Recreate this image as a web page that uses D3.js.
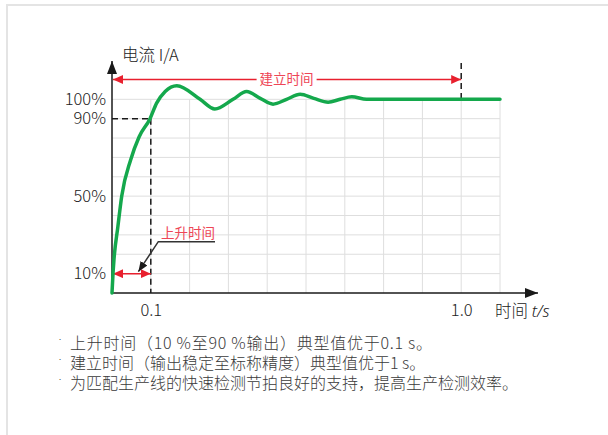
<!DOCTYPE html>
<html><head><meta charset="utf-8">
<script src="https://cdn.jsdelivr.net/npm/d3@7/dist/d3.min.js"></script>
<style>
html,body{margin:0;padding:0;background:#fff;}
svg{display:block;font-family:"Noto Sans CJK SC","Noto Sans",sans-serif;}
</style></head>
<body>
<svg id="chart" width="608" height="435"></svg>
<script>
// ---- data ----
const yTickValues = [10, 50, 90, 100];
const yTickLabels = ["10%", "50%", "90%", "100%"];
const xTickPositions = [1, 9];            // grid units
const xTickLabels = ["0.1", "1.0"];
const gridX = d3.range(0, 11, 1);
const gridY = d3.range(0, 101, 10);
const curveX = [0, 0.026, 0.05, 0.15, 0.25, 0.48, 0.70, 0.98, 1.15, 1.37, 1.67, 2.27, 2.65, 3.12, 3.47, 3.82, 4.15, 4.5, 4.85, 5.2, 5.57, 5.88, 6.18, 6.56, 10];
const curveY = [0, 10, 17, 34, 50, 68.7, 80.7, 90, 98, 104, 107, 100, 95, 100, 104, 100.5, 97.5, 100, 102.6, 100.5, 98.5, 100, 101.3, 100, 100];
const riseTime = 1, riseLevel = 90, lowLevel = 10, settleTime = 9;
const yTitle = "电流 I/A";
const xTitle = "时间 ";
const xTitleItalic = "t/s";
const settleLabel = "建立时间";
const riseLabel = "上升时间";
const notes = [
  "上升时间（10 %至90 %输出）典型值优于0.1 s。",
  "建立时间（输出稳定至标称精度）典型值优于1 s。",
  "为匹配生产线的快速检测节拍良好的支持，提高生产检测效率。"
];

// ---- drawing ----
const svg = d3.select("#chart");
const x = d3.scaleLinear().domain([0, 10]).range([112, 500]);
const y = d3.scaleLinear().domain([0, 100]).range([293, 99.3]);
const red = "#e8202e", redText = "#ee4656", green = "#14a84c", ink = "#1a1a1a";

// frame
svg.append("path").attr("d", "M7,435 V5 H608").attr("fill", "none").attr("stroke", "#e4e4e4").attr("stroke-width", 2);

const defs = svg.append("defs");
function marker(id, color, w, h) {
  defs.append("marker").attr("id", id).attr("viewBox", `0 0 ${w} ${h}`)
    .attr("refX", w).attr("refY", h / 2).attr("markerWidth", w).attr("markerHeight", h)
    .attr("markerUnits", "userSpaceOnUse").attr("orient", "auto-start-reverse")
    .append("path").attr("d", `M0,0 L${w},${h / 2} L0,${h} Z`).attr("fill", color);
}
marker("redArrow", red, 10, 9);
marker("blackArrow", ink, 13, 10);
marker("smallBlack", ink, 10, 8);

// grid
const grid = svg.append("g").attr("stroke", "#dedede").attr("stroke-width", 1);
grid.selectAll("line.v").data(gridX.slice(1)).join("line")
  .attr("x1", d => x(d)).attr("x2", d => x(d)).attr("y1", y(100)).attr("y2", y(0));
grid.selectAll("line.h").data(gridY.slice(1)).join("line")
  .attr("x1", x(0)).attr("x2", x(10)).attr("y1", d => y(d)).attr("y2", d => y(d));

// axes using d3 axes
const yAxis = d3.axisLeft(y).tickValues(yTickValues).tickFormat((d, i) => yTickLabels[i]).tickSize(0).tickPadding(6);
const gy = svg.append("g").attr("transform", `translate(${x(0)},0)`).call(yAxis);
gy.select(".domain").remove();
gy.selectAll("text").attr("font-size", 16.5).attr("fill", "#222").attr("font-family", "'Noto Sans CJK SC'").attr("font-weight", 300);

const xAxis = d3.axisBottom(x).tickValues(xTickPositions).tickFormat((d, i) => xTickLabels[i]).tickSize(0).tickPadding(11);
const gx = svg.append("g").attr("transform", `translate(0,${y(0)})`).call(xAxis);
gx.select(".domain").remove();
gx.selectAll("text").attr("font-size", 16.5).attr("fill", "#222").attr("font-family", "'Noto Sans CJK SC'").attr("font-weight", 300);

// axis lines with arrows
svg.append("line").attr("x1", x(0)).attr("y1", y(0) + 1).attr("x2", x(0)).attr("y2", 61)
  .attr("stroke", ink).attr("stroke-width", 1.5).attr("marker-end", "url(#blackArrow)");
svg.append("line").attr("x1", x(0)).attr("y1", y(0)).attr("x2", 538).attr("y2", y(0))
  .attr("stroke", ink).attr("stroke-width", 1.5).attr("marker-end", "url(#blackArrow)");

// axis titles
svg.append("text").attr("x", 122).attr("y", 61).attr("font-size", 16.5).attr("fill", "#222").attr("font-weight", 300).text(yTitle);
const xt = svg.append("text").attr("x", 495).attr("y", 317).attr("font-size", 16.5).attr("fill", "#222").attr("font-weight", 300);
xt.append("tspan").text(xTitle);
xt.append("tspan").attr("font-style", "italic").attr("font-family", "'Noto Sans','DejaVu Sans',sans-serif").text(xTitleItalic);

// dashed guides
const dash = svg.append("g").attr("stroke", ink).attr("stroke-width", 1.5).attr("stroke-dasharray", "6,4").attr("fill", "none");
dash.append("line").attr("x1", x(0)).attr("x2", x(riseTime)).attr("y1", y(riseLevel)).attr("y2", y(riseLevel));
dash.append("line").attr("x1", x(riseTime)).attr("x2", x(riseTime)).attr("y1", y(riseLevel)).attr("y2", y(0));
dash.append("line").attr("x1", x(settleTime)).attr("x2", x(settleTime)).attr("y1", 63).attr("y2", y(100));

// settle arrow
svg.append("line").attr("x1", x(0) + 1).attr("x2", x(settleTime)).attr("y1", 79.5).attr("y2", 79.5)
  .attr("stroke", red).attr("stroke-width", 1.5)
  .attr("marker-start", "url(#redArrow)").attr("marker-end", "url(#redArrow)");
const slX = (x(0) + x(settleTime)) / 2;
svg.append("rect").attr("x", slX - 30).attr("y", 70).attr("width", 60).attr("height", 19).attr("fill", "#fff");
svg.append("text").attr("x", slX).attr("y", 79.5).attr("dy", "0.35em").attr("text-anchor", "middle")
  .attr("font-size", 13.5).attr("fill", redText).text(settleLabel);

// rise arrow
svg.append("line").attr("x1", x(0) + 1).attr("x2", x(riseTime)).attr("y1", y(lowLevel)).attr("y2", y(lowLevel))
  .attr("stroke", red).attr("stroke-width", 1.5)
  .attr("marker-start", "url(#redArrow)").attr("marker-end", "url(#redArrow)");

// rise label with leader
svg.append("text").attr("x", 161).attr("y", 233.5).attr("dy", "0.35em")
  .attr("font-size", 13.5).attr("fill", redText).text(riseLabel);
svg.append("polyline").attr("points", `215,241.7 158.3,241.7 ${x(0.68)},${y(lowLevel) - 2}`)
  .attr("fill", "none").attr("stroke", "#333").attr("stroke-width", 1.5).attr("marker-end", "url(#smallBlack)");

// curve
const pts = curveX.map((d, i) => [d, curveY[i]]);
svg.append("path").datum(pts)
  .attr("d", d3.line().x(d => x(d[0])).y(d => y(d[1])).curve(d3.curveMonotoneX))
  .attr("fill", "none").attr("stroke", green).attr("stroke-width", 3.5).attr("stroke-linecap", "round");

// notes
const noteWidths = [362, null, null];
const ng = svg.append("g").attr("font-size", 16).attr("fill", "#3a3a3a").attr("font-weight", 300);
notes.forEach((t, i) => {
  const yy = 343.5 + i * 20;
  ng.append("text").attr("x", 60).attr("y", yy).attr("dy", "0.08em").attr("text-anchor", "middle")
    .attr("font-family", "'DejaVu Sans',sans-serif").attr("font-size", 16).text("·");
  const tx = ng.append("text").attr("x", 70).attr("y", yy).attr("dy", "0.35em").text(t);
  if (noteWidths[i]) tx.attr("textLength", noteWidths[i]).attr("lengthAdjust", "spacing");
});
</script>
</body></html>
